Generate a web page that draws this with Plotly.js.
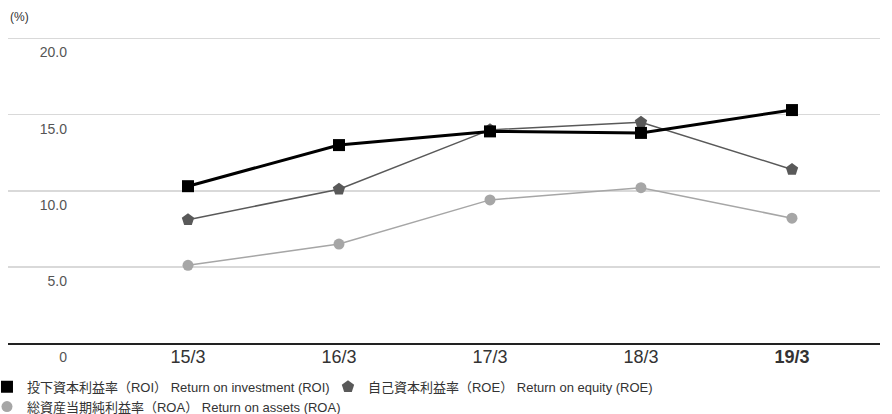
<!DOCTYPE html>
<html>
<head>
<meta charset="utf-8">
<script src="https://cdn.plot.ly/plotly-3.0.1.min.js"></script>
<style>html,body{margin:0;padding:0;background:#fff;}#chart{width:892px;height:414px;}</style>
</head>
<body>
<div id="chart"></div>
<script>
const categories = ['15/3', '16/3', '17/3', '18/3', '19/3'];
const tickLabels = ['15/3', '16/3', '17/3', '18/3', '<b>19/3</b>'];
const roi = [10.3, 13.0, 13.9, 13.8, 15.3];
const roe = [8.1, 10.1, 14.0, 14.5, 11.4];
const roa = [5.1, 6.5, 9.4, 10.2, 8.2];
const yTickVals = [0, 5, 10, 15, 20];
const yTickText = ['0', '5.0', '10.0', '15.0', '20.0'];
const names = [
  '投下資本利益率（ROI） Return on investment (ROI)',
  '自己資本利益率（ROE） Return on equity (ROE)',
  '総資産当期純利益率（ROA） Return on assets (ROA)'
];
const seriesValues = [roi, roe, roa];
const colors = ['#000000', '#595959', '#a6a6a6'];
const lineWidths = [3, 1.5, 1.5];
const symbols = ['square', 'pentagon', 'circle'];
const sizes = [12, 13, 11];

const FONT = 'Liberation Sans, Noto Sans CJK JP, sans-serif';

const data = [];
for (let i = 2; i >= 0; i--) {
  data.push({x: categories, y: seriesValues[i], type: 'scatter', mode: 'lines',
    line: {color: colors[i], width: lineWidths[i]}, showlegend: false, hoverinfo: 'skip'});
}
for (let i = 2; i >= 0; i--) {
  data.push({x: categories, y: seriesValues[i], type: 'scatter', mode: 'markers', name: names[i],
    marker: {symbol: symbols[i], size: sizes[i], color: colors[i]}, legendrank: i + 1});
}
// invisible carrier so the label-only axis y2 is drawn
data.push({x: categories, y: roi, yaxis: 'y2', type: 'scatter', mode: 'lines',
  line: {width: 0, color: 'rgba(0,0,0,0)'}, opacity: 0, showlegend: false, hoverinfo: 'skip'});

const yRange = [0, 20.1];

const layout = {
  width: 892, height: 414,
  margin: {l: 8, r: 12, t: 37, b: 71, autoexpand: false},
  paper_bgcolor: '#ffffff', plot_bgcolor: '#ffffff',
  font: {family: FONT, color: '#333333'},
  xaxis: {
    type: 'category',
    range: [-1.192, 4.583],
    tickvals: categories, ticktext: tickLabels,
    showgrid: false, zeroline: false,
    showline: true, linecolor: '#222222', linewidth: 1.5,
    ticks: '', ticklabelstandoff: -3,
    tickfont: {size: 18, color: '#333333', family: FONT},
    fixedrange: true
  },
  yaxis: {
    range: yRange, tickvals: yTickVals,
    showticklabels: false, showgrid: true, gridcolor: '#d9d9d9', gridwidth: 1.5,
    zeroline: false, showline: false, ticks: ''
  },
  yaxis2: {
    overlaying: 'y', anchor: 'free', position: 0.0677, side: 'left',
    range: yRange, tickvals: yTickVals, ticktext: yTickText,
    showgrid: false, zeroline: false, showline: false, ticks: '',
    ticklabelshift: 14,
    tickfont: {size: 14, color: '#555555', family: FONT}
  },
  showlegend: true,
  legend: {
    orientation: 'h', x: -0.0241, xanchor: 'left', y: -0.094, yanchor: 'top',
    font: {size: 13, color: '#333333', family: FONT},
    itemwidth: 30, traceorder: 'normal', tracegroupgap: 0,
    entrywidth: 296, entrywidthmode: 'pixels',
    bgcolor: 'rgba(0,0,0,0)'
  },
  annotations: [{
    text: '(%)', xref: 'paper', yref: 'paper', x: 0, y: 1, xanchor: 'left', yanchor: 'bottom',
    yshift: 11, showarrow: false, font: {size: 12, color: '#333333', family: FONT}
  }]
};

Plotly.newPlot('chart', data, layout, {displayModeBar: false, staticPlot: true});
</script>
</body>
</html>
